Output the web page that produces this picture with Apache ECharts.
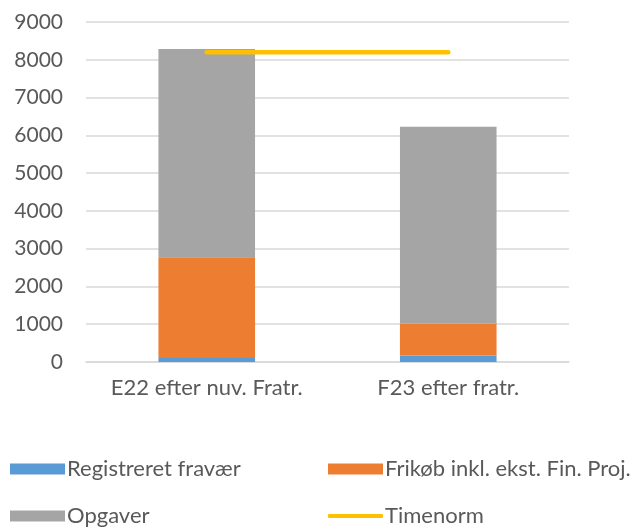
<!DOCTYPE html>
<html>
<head>
<meta charset="utf-8">
<script src="https://cdn.jsdelivr.net/npm/echarts@6/dist/echarts.min.js"></script>
<style>
html,body{margin:0;padding:0;background:#fff;}
#chart{width:634px;height:528px;}
</style>
</head>
<body>
<div id="chart"></div>
<script>
var categories = ['E22 efter nuv. Fratr.', 'F23 efter fratr.'];
var fravaer = [105, 170];
var frikob = [2665, 850];
var opgaver = [5515, 5210];
var timenorm = [8200, 8200];
var yTicks = { min: 0, max: 9000, interval: 1000 };

var FONT = 'Lato';
var TXT = '#595959';
var chart = echarts.init(document.getElementById('chart'), null, {renderer: 'canvas'});

function leg(item, left, top, h) {
  return {
    data: [item], left: left, top: top, padding: 0, orient: 'horizontal',
    itemWidth: 55, itemHeight: h, selectedMode: false,
    textStyle: { color: TXT, fontFamily: FONT, fontSize: 22, lineHeight: 22, padding: [0,0,0,-3] }
  };
}

chart.setOption({
  animation: false,
  backgroundColor: '#fff',
  grid: { left: 86, right: 65, top: 22, bottom: 166, containLabel: false },
  legend: [
    leg({ name: 'Registreret fravær', icon: 'rect' }, 10, 458, 11),
    leg({ name: 'Frikøb inkl. ekst. Fin. Proj.', icon: 'rect' }, 328, 458, 11),
    leg({ name: 'Opgaver', icon: 'rect' }, 10, 505, 11),
    leg({ name: 'Timenorm', icon: 'roundRect', itemStyle: { color: '#FFC000' } }, 328, 505, 4)
  ],
  xAxis: {
    type: 'category', data: categories,
    axisLine: { show: true, lineStyle: { color: '#d9d9d9', width: 1.5 } },
    axisTick: { show: false },
    axisLabel: { color: TXT, fontFamily: FONT, fontSize: 22, margin: 15, interval: 0, hideOverlap: false }
  },
  yAxis: {
    type: 'value', min: yTicks.min, max: yTicks.max, interval: yTicks.interval,
    axisLine: { show: false }, axisTick: { show: false },
    splitLine: { lineStyle: { color: '#d9d9d9', width: 1.5 } },
    axisLabel: { color: TXT, fontFamily: FONT, fontSize: 21, margin: 23,
      formatter: function (v) { return String(v); } }
  },
  series: [
    { name: 'Registreret fravær', type: 'bar', stack: 's', data: fravaer, barWidth: '40%',
      itemStyle: { color: '#5B9BD5' } },
    { name: 'Frikøb inkl. ekst. Fin. Proj.', type: 'bar', stack: 's', data: frikob,
      itemStyle: { color: '#ED7D31' } },
    { name: 'Opgaver', type: 'bar', stack: 's', data: opgaver,
      itemStyle: { color: '#A5A5A5' } },
    { name: 'Timenorm', type: 'line', data: timenorm, symbol: 'none', z: 10,
      lineStyle: { color: '#FFC000', width: 4.5, cap: 'round' }, itemStyle: { color: '#FFC000' } }
  ]
});
</script>
</body>
</html>
